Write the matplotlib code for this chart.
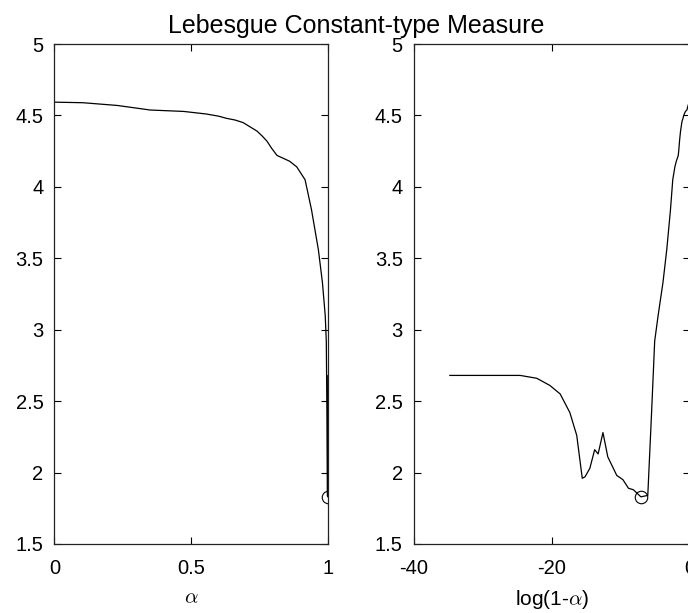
import numpy as np
import matplotlib
matplotlib.use("Agg")
from matplotlib import pyplot as plt

# log(1 - alpha) and the measure (and the left one for t > -5)
log_one_minus_alpha = [-34.8, -28.0, -24.6, -22.2, -20.3, -18.8, -17.4, -16.4, -15.6, -15.2,
                       -14.5, -13.8, -13.3, -12.6, -11.9, -10.6, -9.7, -8.9, -8.2, -7.1,
                       -6.1, -5.55, -5.1, -4.6, -3.9, -3.35, -2.81, -2.48, -2.17, -1.96,
                       -1.68, -1.58, -1.50, -1.427, -1.35, -1.256, -1.17, -1.079, -0.99,
                       -0.916, -0.81, -0.64, -0.43, -0.38, -0.26, -0.11, 0.0]
measure = [2.68, 2.68, 2.68, 2.66, 2.61, 2.55, 2.42, 2.26, 1.96, 1.97,
           2.03, 2.16, 2.13, 2.28, 2.11, 1.98, 1.95, 1.89, 1.88, 1.83,
           1.84, 2.42, 2.92, 3.10, 3.33, 3.56, 3.84, 4.05, 4.14, 4.18,
           4.22, 4.27, 4.32, 4.355, 4.39, 4.42, 4.45, 4.468, 4.48,
           4.495, 4.51, 4.528, 4.538, 4.547, 4.57, 4.589, 4.593]

x_ticks_left = [0, 0.5, 1]
x_ticks_right = [-40, -20, 0]
y_ticks = [1.5, 2, 2.5, 3, 3.5, 4, 4.5, 5]
y_tick_labels = ['1.5', '2', '2.5', '3', '3.5', '4', '4.5', '5']

plt.rcParams['font.family'] = ['Liberation Sans', 'DejaVu Sans']
plt.rcParams['mathtext.fontset'] = 'cm'

t = np.array(log_one_minus_alpha)
L = np.array(measure)
alpha = 1 - np.exp(t)
imin = np.argmin(L)

fig = plt.figure(figsize=(6.88, 6.13), dpi=100)
ax1 = fig.add_axes([0.0792, 0.1126, 0.3975, 0.8156])
ax2 = fig.add_axes([0.6017, 0.1126, 0.401, 0.8156])

ax1.plot(alpha, L, color='k', lw=0.9)
ax1.plot(alpha[imin], L[imin], 'o', mfc='none', mec='k', ms=9, mew=0.8)
ax1.set_xlim(0, 1)
ax1.set_xticks(x_ticks_left)
ax1.set_xticklabels(['0', '0.5', '1'])
ax1.set_xlabel(r'$\alpha$', fontsize=15, labelpad=7)

ax2.plot(t, L, color='k', lw=0.9)
ax2.plot(t[imin], L[imin], 'o', mfc='none', mec='k', ms=9, mew=0.8)
ax2.set_xlim(-40, 0)
ax2.set_xticks(x_ticks_right)
ax2.set_xticklabels(['-40', '-20', '0'])
ax2.set_xlabel(r'log(1-$\alpha$)', fontsize=15, labelpad=7)

for ax in (ax1, ax2):
    ax.set_ylim(1.5, 5)
    ax.set_yticks(y_ticks)
    ax.set_yticklabels(y_tick_labels)
    ax.tick_params(direction='in', top=True, right=True, length=5, width=0.8,
                   labelsize=14.5, pad=8)
    ax.tick_params(axis='x', pad=11)
    for s in ax.spines.values():
        s.set_linewidth(0.9)
        s.set_color('#222222')

fig.text(356.5 / 688, 1 - 32.7 / 613, 'Lebesgue Constant-type Measure',
         ha='center', va='baseline', fontsize=18)

fig.savefig('out.png', dpi=100)
